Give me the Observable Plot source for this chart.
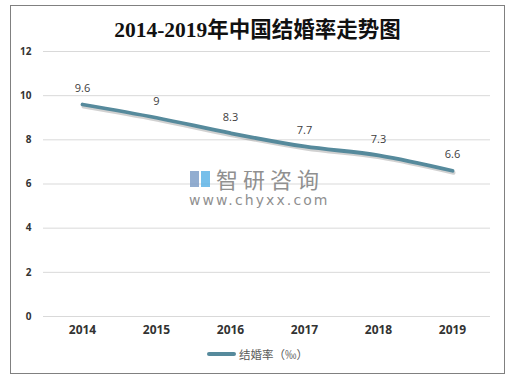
<!DOCTYPE html>
<html><head><meta charset="utf-8">
<script src="https://cdn.jsdelivr.net/npm/d3@7"></script>
<script src="https://cdn.jsdelivr.net/npm/@observablehq/plot@0.6"></script>
<style>
body{margin:0;background:#fff;}
#wrap{position:relative;width:515px;height:382px;overflow:hidden;font-family:"Open Sans","Noto Sans CJK SC",sans-serif;}
#frame{position:absolute;left:10px;top:5px;width:493px;height:367px;border:1px solid #808080;}
#title{position:absolute;left:0;width:515px;top:15px;text-align:center;font-family:"Liberation Serif","Noto Sans CJK SC",serif;font-weight:bold;font-size:21.5px;color:#111;line-height:30px;}
#chart{position:absolute;left:0;top:0;}
#legend{position:absolute;left:207px;top:346px;font-size:11.5px;color:#595959;display:flex;align-items:center;font-family:"Noto Sans CJK SC",sans-serif;}
#legend .sw{width:29px;height:4px;background:#568a9c;border-radius:2px;margin-right:3px;}
#wm1{position:absolute;left:216px;top:162px;font-size:22px;letter-spacing:5px;color:#909090;font-family:"Noto Sans CJK SC",sans-serif;}
#wm2{position:absolute;left:189px;top:192px;font-size:14px;letter-spacing:2.1px;color:#909090;font-family:"DejaVu Sans",sans-serif;}
#logo{position:absolute;left:190px;top:171px;width:20px;height:16px;}
</style></head>
<body><div id="wrap">
<div id="chart"></div>
<div id="frame"></div>
<div id="title">2014-2019年中国结婚率走势图</div>
<div id="logo"><div style="position:absolute;left:0;top:0;width:9px;height:16px;background:#7f9fc8;opacity:.85"></div><div style="position:absolute;left:11px;top:0;width:9px;height:16px;background:#5fb4e6;opacity:.85"></div></div>
<div id="wm1">智研咨询</div>
<div id="wm2">www.chyxx.com</div>
<div id="legend"><div class="sw"></div>结婚率（‰）</div>
</div>
<script>
const years = ["2014","2015","2016","2017","2018","2019"];
const rates = [9.6, 9, 8.3, 7.7, 7.3, 6.6];
const yTicks = [0, 2, 4, 6, 8, 10, 12];
const data = years.map((y, i) => ({year: y, rate: rates[i]}));

const chart = Plot.plot({
  width: 515, height: 382,
  marginLeft: 43, marginRight: 25, marginTop: 51, marginBottom: 66,
  style: {fontFamily: "'Open Sans', sans-serif", background: "transparent"},
  x: {type: "point", domain: years, padding: 0.5, label: null},
  y: {domain: [0, 12], label: null},
  marks: [
    Plot.gridY(yTicks, {stroke: "#d9d9d9", strokeOpacity: 1}),
    Plot.axisY(yTicks, {tickSize: 0, tickPadding: 12, fontSize: 10, fontWeight: "bold", fill: "#333", label: null}),
    Plot.axisX({tickSize: 0, tickPadding: 9, fontSize: 12, fontWeight: "bold", fill: "#333", label: null}),
    Plot.line(data, {x: "year", y: "rate", stroke: "#000", strokeOpacity: 0.18, strokeWidth: 4, curve: "catmull-rom", dy: 2, dx: 1}),
    Plot.line(data, {x: "year", y: "rate", stroke: "#568a9c", strokeWidth: 3.8, curve: "catmull-rom"}),
    Plot.text(data, {x: "year", y: "rate", text: d => String(d.rate), dy: -16, fontSize: 11, fill: "#404040"})
  ]
});
document.getElementById("chart").appendChild(chart);
</script>
</body></html>
